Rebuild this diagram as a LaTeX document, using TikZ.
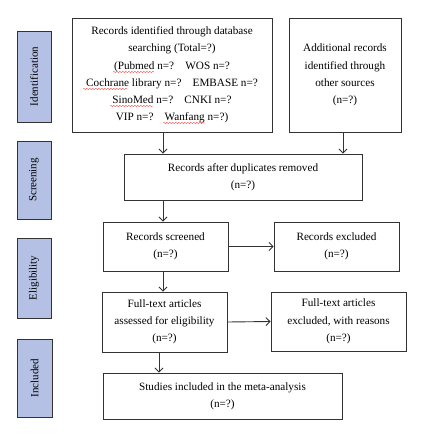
\documentclass[tikz,border=0pt]{standalone}
\usepackage{fontspec}
\setmainfont{Liberation Serif}
\usetikzlibrary{arrows.meta,decorations.pathmorphing}
\definecolor{stage}{HTML}{B4C0E4}
\definecolor{edge}{HTML}{333333}
\begin{document}
\begin{tikzpicture}[x=1pt,y=-1pt,
  box/.style={draw=edge,line width=0.9pt,fill=white,inner sep=0pt,align=center,
    font=\fontsize{11.2}{17.3}\selectfont},
  stagebox/.style={draw=edge,line width=0.9pt,fill=stage,inner sep=0pt,
    minimum width=34pt,rotate=90,font=\fontsize{11}{12}\selectfont},
  arr/.style={draw=edge,line width=0.9pt,-{Straight Barb[length=4pt,width=8pt]}},
  squig/.style={draw=red!70,line width=0.4pt,decorate,
    decoration={snake,amplitude=0.7pt,segment length=3pt}}]
\useasboundingbox (0,0) rectangle (424,440);
% stage labels
\node[stagebox,minimum height=34pt,minimum width=91pt] (sid) at (34,76.5) {Identification};
\node[stagebox,minimum height=34pt,minimum width=78pt] (ssc) at (34,180) {Screening};
\node[stagebox,minimum height=34pt,minimum width=80pt] (sel) at (34,278) {Eligibility};
\node[stagebox,minimum height=35pt,minimum width=78pt] (sin) at (34.5,378) {Included};
% boxes
\node[box,minimum width=200pt,minimum height=114pt] (b1) at (172,75)
  {Records identified through database\\ searching (Total=?)\\
   (Pubmed n=?\quad WOS n=?\\
   Cochrane library n=?\quad EMBASE n=?\\
   SinoMed n=?\quad CNKI n=?\\
   VIP n=?\quad Wanfang n=?)};
\node[box,minimum width=112pt,minimum height=114pt] (b2) at (345,75)
  {Additional records\\ identified through\\ other sources\\ (n=?)};
\node[box,minimum width=238pt,minimum height=46pt] (b3) at (243,177)
  {Records after duplicates removed\\ (n=?)};
\node[box,minimum width=125pt,minimum height=49pt] (b4) at (165.5,246.5)
  {Records screened\\ (n=?)};
\node[box,minimum width=125pt,minimum height=49pt] (b5) at (336.5,246.5)
  {Records excluded\\ (n=?)};
\node[box,minimum width=125pt,minimum height=60pt] (b6) at (164.5,322)
  {Full-text articles\\ assessed for eligibility\\ (n=?)};
\node[box,minimum width=135pt,minimum height=59pt] (b7) at (338.5,321.5)
  {Full-text articles\\ excluded, with reasons\\ (n=?)};
\node[box,minimum width=239pt,minimum height=46pt] (b8) at (222.5,396)
  {Studies included in the meta-analysis\\ (n=?)};
% connector columns
\coordinate (xa) at (163,0);
\coordinate (xb) at (343,0);
\coordinate (xc) at (159,0);
\draw[arr] (b1.south -| xa) -- (b3.north -| xa);
\draw[arr] (b2.south -| xb) -- (b3.north -| xb);
\draw[arr] (b3.south -| xa) -- (b4.north -| xa);
\draw[arr] (b4.south -| xa) -- (b6.north -| xa);
\draw[arr] (b6.south -| xc) -- (b8.north -| xc);
\draw[arr] (b4.east) -- (b5.west);
\draw[arr] (b6.east) -- (b7.west);
% spell-check marks
\draw[squig] (113,72) -- (154,72);
\draw[squig] (83,89) -- (127,89);
\draw[squig] (110,106) -- (153,106);
\draw[squig] (163,123) -- (205,123);
\end{tikzpicture}
\end{document}
